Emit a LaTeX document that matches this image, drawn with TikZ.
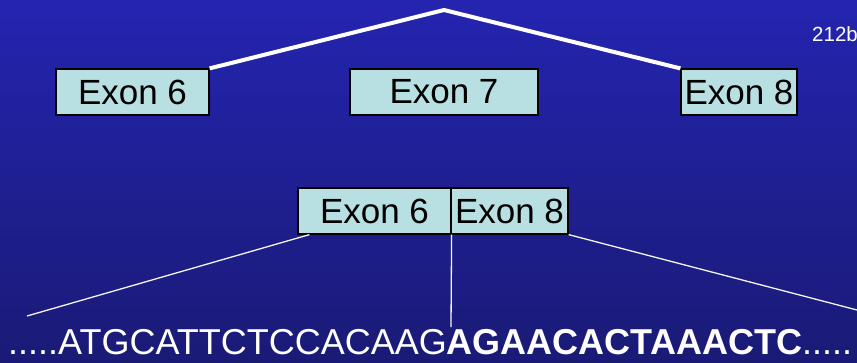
\documentclass[tikz,border=0pt]{standalone}
\usepackage{fontspec}
\setmainfont{Liberation Sans}
\usetikzlibrary{calc}
\definecolor{bgtop}{RGB}{36,36,176}
\definecolor{bgbot}{RGB}{26,26,118}
\definecolor{exonfill}{RGB}{184,224,226}
\tikzset{
  exon/.style={draw=black, line width=1.2pt, fill=exonfill, inner sep=0pt,
    minimum height=46pt, font=\fontsize{35}{40}\selectfont, text=black},
  thickw/.style={draw=white, line width=4pt},
  thinw/.style={draw=white!92!gray, line width=1.3pt},
}
\begin{document}
\begin{tikzpicture}[x=1pt,y=-1pt]
\useasboundingbox (0,0) rectangle (857,362);
\clip (0,0) rectangle (857,362);
\shade[top color=bgtop, bottom color=bgbot] (0,0) rectangle (857,362);
\node[anchor=base west, text=white, font=\fontsize{20.5}{22}\selectfont, inner sep=0pt] (lbl) at (812,41.5) {212b};
\coordinate (apex) at (444,10);
\node[exon, minimum width=153pt] (e6) at (132.5,92) {Exon 6};
\node[exon, minimum width=188pt] (e7) at (444,92) {Exon 7};
\node[exon, minimum width=116pt] (e8) at (739,92) {Exon 8};
\draw[thickw] (e6.north east) -- (apex) -- (e8.north west);
\node[exon, minimum width=153pt] (b6) at (374.5,211) {Exon 6};
\node[exon, minimum width=117pt] (b8) at (509.5,211) {Exon 8};
\coordinate (l1) at (27,316);
\coordinate (l2) at (451,327);
\coordinate (l3) at (857,310);
\draw[thinw] ($(b6.south west)+(12,0)$) -- (l1);
\draw[thinw] (b6.south east) -- (l2);
\draw[thinw] (b8.south east) -- (l3);
\node[anchor=base west, inner sep=0pt, text=white, font=\fontsize{36}{40}\selectfont] (seq) at (8,354) {.....ATGCATTCTCCACAAG\textbf{AGAACACTAAACTC}.....};
\end{tikzpicture}
\end{document}
